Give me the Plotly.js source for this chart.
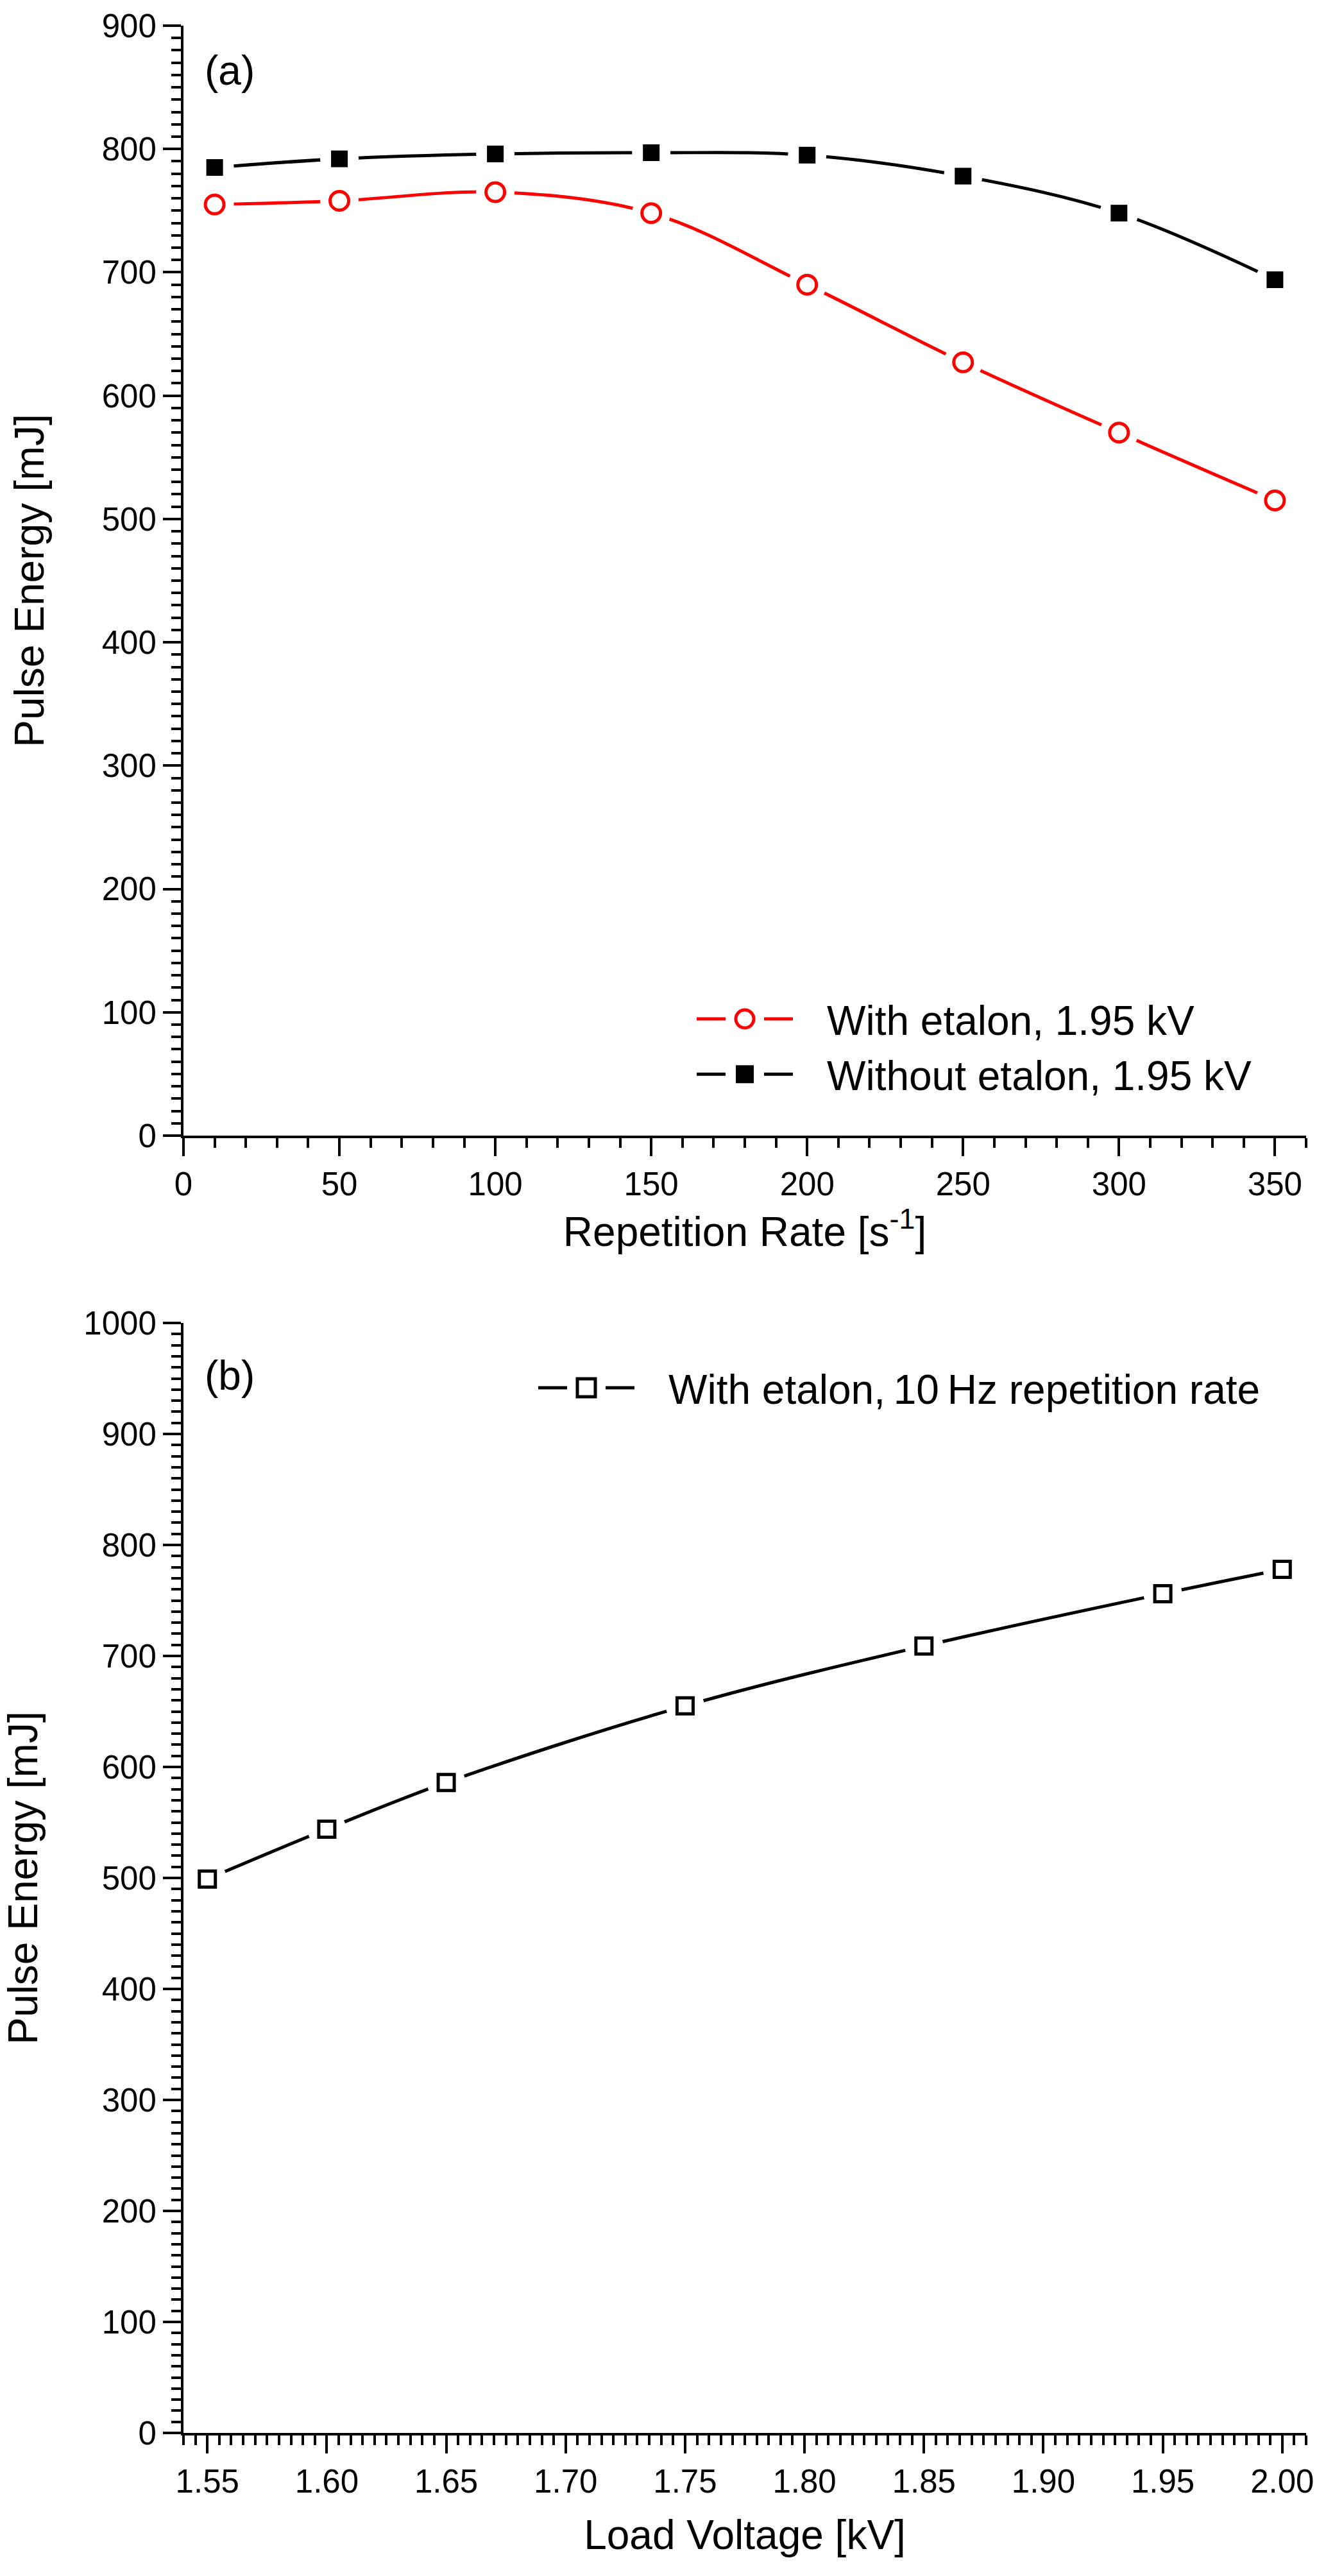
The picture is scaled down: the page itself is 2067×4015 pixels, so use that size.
<!DOCTYPE html>
<html>
<head>
<meta charset="utf-8">
<script src="https://cdn.plot.ly/plotly-3.0.1.min.js"></script>
<style>
  html, body { margin: 0; padding: 0; background: #fff; }
  #chart { width: 2067px; height: 4015px; }
</style>
</head>
<body>
<div id="chart"></div>
<script>
// ── Data ─────────────────────────────────────────────────────
var repRate        = [10, 50, 100, 150, 200, 250, 300, 350];
var withEtalon     = [755, 758, 765, 748, 690, 627, 570, 515];
var withoutEtalon  = [785, 792, 796, 797, 795, 778, 748, 694];

var loadVoltage    = [1.55, 1.60, 1.65, 1.75, 1.85, 1.95, 2.00];
var voltageEnergy  = [499, 544, 586, 655, 709, 756, 778];

// leading en + quarter space keeps the gap between legend sample and text
var LEAD = '\u2002\u2005';
var nameWith    = LEAD + 'With etalon, 1.95 kV';
var nameWithout = LEAD + 'Without etalon, 1.95 kV';
var nameVolt    = LEAD + 'With etalon,\u200910\u2009Hz repetition rate';

// ── Page geometry ────────────────────────────────────────────
var W = 2067, H = 4015;
var FONT = '"Liberation Sans", Arial, sans-serif';
var RED = '#ff0000', BLACK = '#000000';
var HALO = '#ffffff';

function px(x) { return x / W; }
function py(y) { return 1 - y / H; }

// ── Trace helpers ────────────────────────────────────────────
// line + legend entry, then a white halo to cut the line, then the marker on top
function series(x, y, name, color, marker, xa, ya, legendId) {
    var line = {
        x: x, y: y, name: name, mode: 'lines+markers', xaxis: xa, yaxis: ya,
        line: { color: color, width: 5, shape: 'spline' },
        marker: marker, legend: legendId, hoverinfo: 'x+y'
    };
    var halo = {
        x: x, y: y, mode: 'markers', xaxis: xa, yaxis: ya, showlegend: false,
        marker: { symbol: 'circle', size: 60, color: HALO, line: { width: 0 } },
        hoverinfo: 'skip'
    };
    var dots = {
        x: x, y: y, mode: 'markers', xaxis: xa, yaxis: ya, showlegend: false,
        marker: marker, hoverinfo: 'skip'
    };
    return [line, halo, dots];
}

var redCircle  = { symbol: 'circle', size: 29, color: '#fff', line: { color: RED, width: 5 } };
var blackSq    = { symbol: 'square', size: 26, color: BLACK, line: { width: 0 } };
var openSq     = { symbol: 'square', size: 25, color: '#fff', line: { color: BLACK, width: 5 } };

var traces = []
    .concat(series(repRate, withEtalon, nameWith, RED, redCircle, 'x', 'y', 'legend'))
    .concat(series(repRate, withoutEtalon, nameWithout, BLACK, blackSq, 'x', 'y', 'legend'))
    .concat(series(loadVoltage, voltageEnergy, nameVolt, BLACK, openSq, 'x3', 'y3', 'legend2'));

// ── Axis helpers ─────────────────────────────────────────────
function axis(extra, inside) {
    var dir = inside ? 'inside' : 'outside';
    var a = {
        showline: true, linewidth: 4, linecolor: BLACK,
        showgrid: false, zeroline: false, fixedrange: true,
        ticks: dir, ticklen: 28, tickwidth: 4, tickcolor: BLACK,
        tickfont: { family: FONT, size: 51, color: BLACK },
        showticklabels: !inside,
        minor: { ticks: dir, ticklen: 15, tickwidth: 4, tickcolor: BLACK, showgrid: false }
    };
    for (var k in extra) a[k] = extra[k];
    if (extra.minorDtick) { a.minor.dtick = extra.minorDtick; delete a.minorDtick; }
    return a;
}

function title(text, standoff) {
    return { text: text, standoff: standoff, font: { family: FONT, size: 64, color: BLACK } };
}

var domXa = [px(286), px(2036)], domYa = [py(1770), py(40)];
var domXb = [px(286), px(2036)], domYb = [py(3792), py(2062)];

var legendFont = { family: FONT, size: 64, color: BLACK };

var layout = {
    width: W, height: H,
    margin: { l: 0, r: 0, t: 0, b: 0 },
    paper_bgcolor: '#fff', plot_bgcolor: 'rgba(0,0,0,0)',
    font: { family: FONT, color: BLACK },

    // panel (a)
    xaxis: axis({ domain: domXa, anchor: 'y', range: [0, 360], dtick: 50, tick0: 0, minorDtick: 10,
        title: title('Repetition Rate [s<sup>-1</sup>]', 22), automargin: false }),
    yaxis: axis({ domain: domYa, anchor: 'x', range: [0, 900], dtick: 100, tick0: 0, minorDtick: 10,
        title: title('Pulse Energy [mJ]', 70), automargin: false }),
    xaxis2: axis({ overlaying: 'x', anchor: 'y', side: 'top', range: [0, 360], dtick: 50, tick0: 0, minorDtick: 10 }, true),
    yaxis2: axis({ overlaying: 'y', anchor: 'x', side: 'right', range: [0, 900], dtick: 100, tick0: 0, minorDtick: 10 }, true),

    // panel (b)
    xaxis3: axis({ domain: domXb, anchor: 'y3', range: [1.54, 2.01], dtick: 0.05, tick0: 1.5, minorDtick: 0.005,
        tickformat: '.2f', title: title('Load Voltage [kV]', 34), automargin: false }),
    yaxis3: axis({ domain: domYb, anchor: 'x3', range: [0, 1000], dtick: 100, tick0: 0, minorDtick: 10,
        title: title('Pulse Energy [mJ]', 70), automargin: false }),
    xaxis4: axis({ overlaying: 'x3', anchor: 'y3', side: 'top', range: [1.54, 2.01], dtick: 0.05, tick0: 1.5, minorDtick: 0.005 }, true),
    yaxis4: axis({ overlaying: 'y3', anchor: 'x3', side: 'right', range: [0, 1000], dtick: 100, tick0: 0, minorDtick: 10 }, true),

    legend: {
        x: px(1081), xanchor: 'left', y: py(1540), yanchor: 'top',
        bgcolor: 'rgba(0,0,0,0)', borderwidth: 0, itemwidth: 150, font: legendFont
    },
    legend2: {
        x: px(834), xanchor: 'left', y: py(2115), yanchor: 'top',
        bgcolor: 'rgba(0,0,0,0)', borderwidth: 0, itemwidth: 150, font: legendFont
    },

    annotations: [
        { text: '(a)', xref: 'x domain', yref: 'y domain', x: 31 / 1750, y: 1 - 70 / 1730,
          xanchor: 'left', yanchor: 'middle', showarrow: false, font: { family: FONT, size: 64, color: BLACK } },
        { text: '(b)', xref: 'x3 domain', yref: 'y3 domain', x: 31 / 1750, y: 1 - 82 / 1730,
          xanchor: 'left', yanchor: 'middle', showarrow: false, font: { family: FONT, size: 64, color: BLACK } }
    ],
    showlegend: true
};

// Plotly clamps legend markers to 16px; scale them up to the plotted size
// and cut the sample line around the marker like in the plot.
function styleLegend(gd) {
    gd.querySelectorAll('.legendlines path').forEach(function (p) {
        var len = p.getTotalLength ? p.getTotalLength() : 0;
        if (!len) return;
        var gap = 60, seg = (len - gap) / 2;
        p.style.strokeDasharray = seg + ' ' + gap + ' ' + seg;
    });
    gd.querySelectorAll('.legendpoints path.scatterpts').forEach(function (p) {
        var t = p.getAttribute('transform') || '';
        p.setAttribute('transform', t + ' scale(1.75)');
        p.style.vectorEffect = 'non-scaling-stroke';
    });
}

Plotly.newPlot('chart', traces, layout, { displayModeBar: false, staticPlot: true })
    .then(styleLegend);
</script>
</body>
</html>
